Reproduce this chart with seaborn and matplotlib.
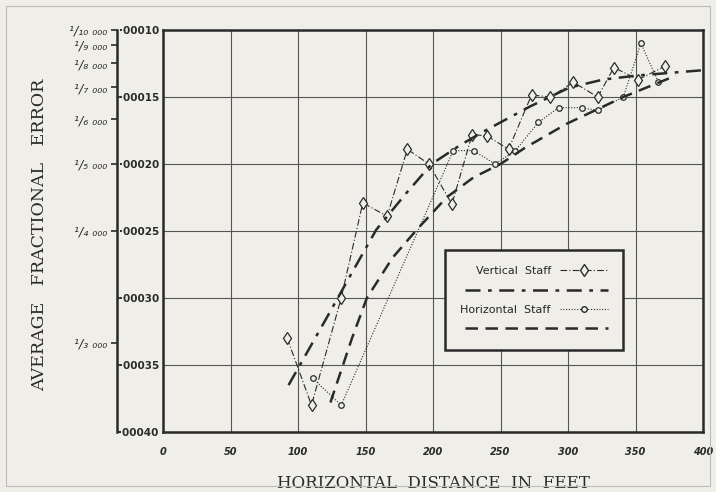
import matplotlib.pyplot as plt
import seaborn as sns
from matplotlib.patches import Rectangle
from matplotlib.lines import Line2D
from matplotlib.legend_handler import HandlerLine2D

# readings: distance in feet, average fractional error
vert_ft = [92, 110, 132, 148, 166, 181, 197, 214, 229, 240, 256, 273, 287, 304, 322, 334, 352, 372]
vert_err = [0.00033, 0.00038, 0.00030, 0.000229, 0.000239, 0.000189, 0.00020, 0.00023, 0.000178,
            0.000179, 0.000189, 0.0001485, 0.00015, 0.000139, 0.00015, 0.000128, 0.000137, 0.000127]

horiz_ft = [111, 132, 215, 230, 246, 261, 278, 293, 310, 322, 341, 354, 367]
horiz_err = [0.00036, 0.00038, 0.00019, 0.00019, 0.00020, 0.00019, 0.000169, 0.000158, 0.000158,
             0.00016, 0.00015, 0.00011, 0.000139]

# smoothed mean curves as drawn
vfit_ft = [93, 120, 140, 158, 180, 199, 220, 237, 272, 301, 326, 351, 400]
vfit_err = [0.000365, 0.000317, 0.000281, 0.000249, 0.000222, 0.00020, 0.000186, 0.000176,
            0.000157, 0.000143, 0.000137, 0.000134, 0.00013]

hfit_ft = [124, 140, 151, 170, 188, 210, 230, 250, 268, 299, 341, 380]
hfit_err = [0.000378, 0.00033, 0.0003, 0.00027, 0.000249, 0.000225, 0.00021, 0.0002, 0.000188,
            0.00017, 0.00015, 0.000134]

x_ticks = [0, 50, 100, 150, 200, 250, 300, 350, 400]
dec_ticks = [0.0001, 0.00015, 0.0002, 0.00025, 0.0003, 0.00035, 0.0004]
dec_labels = ['·00010', '·00015', '·00020', '·00025', '·00030', '·00035', '·00040']
frac_den = [10000, 9000, 8000, 7000, 6000, 5000, 4000, 3000]
frac_labels = ['¹/₁₀ ₀₀₀', '¹/₉ ₀₀₀', '¹/₈ ₀₀₀', '¹/₇ ₀₀₀', '¹/₆ ₀₀₀', '¹/₅ ₀₀₀', '¹/₄ ₀₀₀', '¹/₃ ₀₀₀']

paper = '#efeee9'
ink = '#2a2a2a'


class WideLine(HandlerLine2D):
    # stretch the sample leftwards under the (blank) label
    def create_artists(self, legend, orig_handle, xdescent, ydescent, width, height, fontsize, trans):
        extra = 68
        return super().create_artists(legend, orig_handle, xdescent + extra, ydescent,
                                      width + extra, height, fontsize, trans)


sns.set_style('white')
plt.rcParams['font.family'] = ['DejaVu Sans']

fig = plt.figure(figsize=(7.16, 4.92), dpi=100, facecolor=paper)
ax = fig.add_axes([163 / 716, 1 - 432 / 492, 540 / 716, 402 / 492])
ax.set_facecolor(paper)

sns.lineplot(x=vert_ft, y=vert_err, ax=ax, color=ink, lw=0.8, linestyle=(0, (6, 2, 1, 2)),
             marker='d', markersize=6, markerfacecolor=paper, markeredgecolor=ink, markeredgewidth=0.9)
sns.lineplot(x=horiz_ft, y=horiz_err, ax=ax, color=ink, lw=0.8, linestyle=(0, (1, 1.5)),
             marker='o', markersize=4, markerfacecolor=paper, markeredgecolor=ink, markeredgewidth=0.9)
sns.lineplot(x=vfit_ft, y=vfit_err, ax=ax, color=ink, lw=1.8, linestyle=(0, (6, 3, 1.5, 3)))
sns.lineplot(x=hfit_ft, y=hfit_err, ax=ax, color=ink, lw=1.8, linestyle=(0, (5, 3)))

ax.set_xlim(0, 400)
ax.set_ylim(0.0004, 0.0001)
ax.set_xticks(x_ticks)
ax.set_xticklabels([str(t) for t in x_ticks], fontsize=7, fontweight='bold', fontstyle='italic', color=ink)
ax.set_yticks(dec_ticks)
ax.set_yticklabels(dec_labels, fontsize=7.5, fontweight='bold', color=ink)
ax.tick_params(axis='x', length=0, pad=11)
ax.tick_params(axis='y', length=0, pad=3)
ax.grid(True, color='#555555', lw=0.8)
for s in ax.spines.values():
    s.set_color(ink)
    s.set_linewidth(1.8)

# outer fraction scale
sec = ax.secondary_yaxis(-0.085)
sec.set_yticks([1 / d for d in frac_den])
sec.set_yticklabels(frac_labels, fontsize=9, fontstyle='italic', color=ink)
sec.set_yticks(dec_ticks, minor=True)
sec.tick_params(which='major', direction='out', length=4, width=1.2, color=ink, pad=3)
sec.tick_params(which='minor', direction='in', length=3, width=1.2, color=ink)
sec.spines['left'].set_linewidth(1.8)
sec.spines['left'].set_color(ink)

ax.set_xlabel('HORIZONTAL  DISTANCE  IN  FEET', fontsize=12, family='DejaVu Serif', color=ink)
ax.xaxis.set_label_coords(0.5, -0.108)
ax.xaxis.label.set_va('top')
ax.set_ylabel('AVERAGE   FRACTIONAL   ERROR', fontsize=12.5, family='DejaVu Serif', color=ink)
ax.yaxis.set_label_coords(-0.213, 0.49)

h_vert = Line2D([], [], color=ink, lw=0.8, linestyle=(0, (6, 2, 1, 2)), marker='d', markersize=6,
                markerfacecolor=paper, markeredgecolor=ink)
h_vfit = Line2D([], [], color=ink, lw=1.8, linestyle=(0, (6, 3, 1.5, 3)))
h_horiz = Line2D([], [], color=ink, lw=0.8, linestyle=(0, (1, 1.5)), marker='o', markersize=4,
                 markerfacecolor=paper, markeredgecolor=ink)
h_hfit = Line2D([], [], color=ink, lw=1.8, linestyle=(0, (5, 3)))
leg = ax.legend([h_vert, h_vfit, h_horiz, h_hfit], ['Vertical  Staff', ' ', 'Horizontal  Staff', ' '],
                loc='center', bbox_to_anchor=(0.687, 0.328), markerfirst=False, handlelength=4.3,
                fontsize=8, frameon=True, fancybox=False, framealpha=1, borderpad=1.4,
                labelspacing=0.85, handler_map={h_vfit: WideLine(), h_hfit: WideLine()})
leg.get_frame().set_facecolor(paper)
leg.get_frame().set_edgecolor(ink)
leg.get_frame().set_linewidth(1.8)

fig.add_artist(Rectangle((6 / 716, 6 / 492), 704 / 716, 480 / 492, transform=fig.transFigure,
                         fill=False, edgecolor='#bbbbbb', lw=0.8))

fig.savefig('out.png', dpi=100, facecolor=paper)
